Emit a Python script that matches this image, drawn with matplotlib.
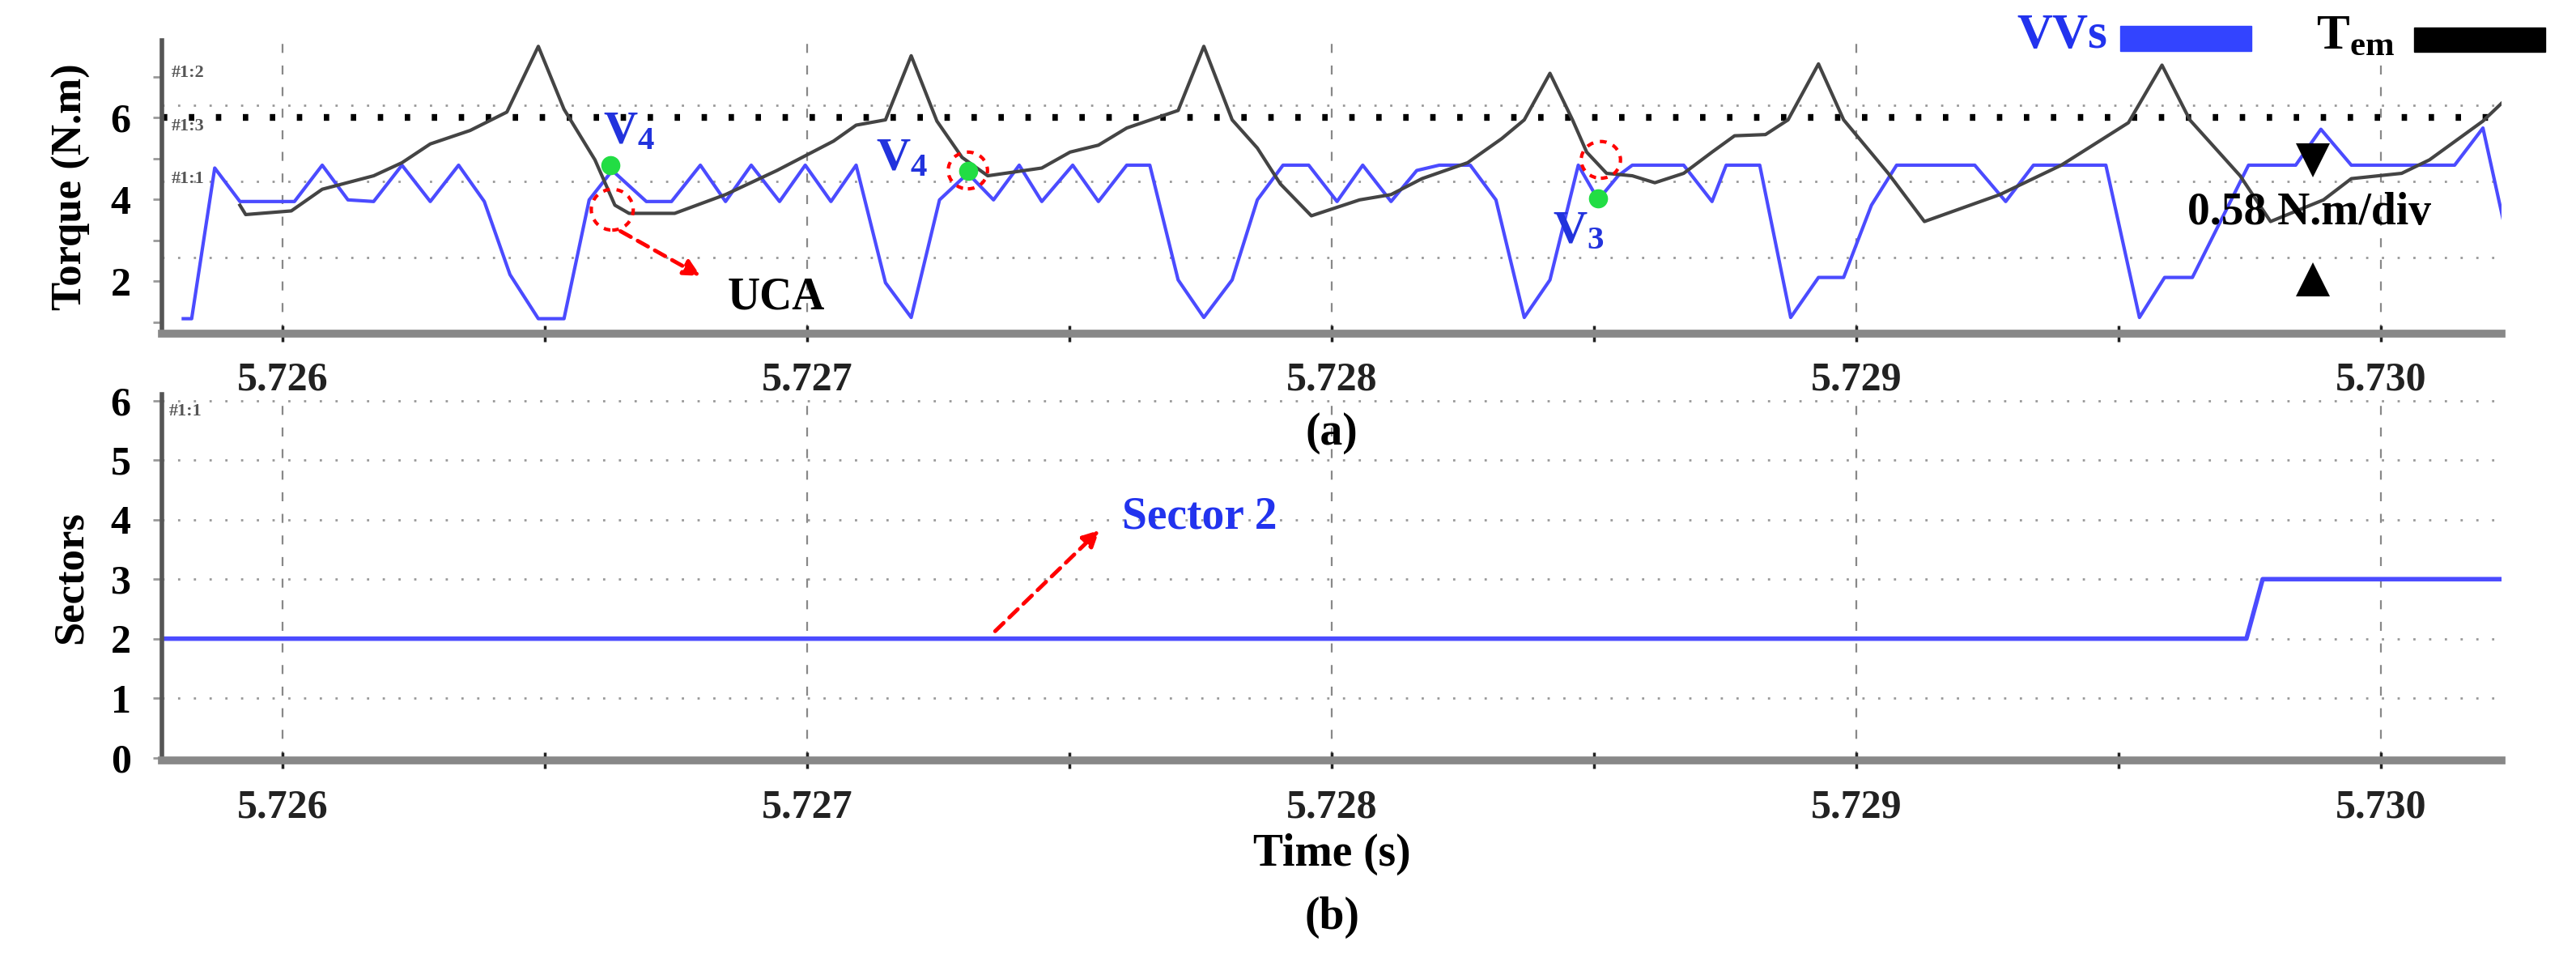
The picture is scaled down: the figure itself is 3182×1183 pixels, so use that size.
import matplotlib
matplotlib.use("Agg")
import matplotlib.pyplot as plt
from matplotlib.patches import Ellipse, Rectangle
import numpy as np

# ---- data (time in microseconds after 5.726 s) ----
vvs_t = [-190, -174, -130, -82, 22, 75, 124, 173, 227, 281, 335, 384, 433, 487, 536, 584, 628,
         693, 741, 796, 844, 893, 947, 996, 1045, 1093, 1149, 1198, 1252, 1306, 1355, 1404, 1447,
         1506, 1555, 1609, 1653, 1707, 1756, 1810, 1858, 1907, 1956, 2010, 2059, 2113, 2162, 2205,
         2264, 2313, 2367, 2416, 2470, 2508, 2546, 2573, 2671, 2725, 2752, 2816, 2875, 2928, 2976,
         3029, 3077, 3226, 3285, 3338, 3476, 3540, 3588, 3641, 3710, 3748, 3838, 3886, 3944, 4141,
         4195, 4242, 4301, 4328]
vvs_v = [1.08, 1.08, 4.77, 3.95, 3.95, 4.84, 3.99, 3.95, 4.84, 3.95, 4.84, 3.95, 2.16, 1.08, 1.08,
         3.99, 4.71, 3.95, 3.95, 4.84, 3.95, 4.84, 3.95, 4.84, 3.95, 4.84, 1.96, 1.11, 3.99, 4.64,
         3.99, 4.84, 3.95, 4.84, 3.95, 4.84, 4.84, 2.03, 1.11, 2.03, 3.99, 4.84, 4.84, 3.95, 4.84,
         3.95, 4.71, 4.84, 4.84, 3.99, 1.11, 2.03, 4.84, 3.99, 4.58, 4.84, 4.84, 3.95, 4.84, 4.84,
         1.11, 2.09, 2.09, 3.86, 4.84, 4.84, 3.95, 4.84, 4.84, 1.11, 2.09, 2.09, 3.86, 4.84, 4.84,
         5.72, 4.84, 4.84, 5.75, 3.01, 2.06, 2.68]

tem_t = [-82, -71, 16, 75, 173, 227, 281, 357, 427, 487, 536, 595, 633, 660, 747, 844, 942, 1050,
         1093, 1149, 1198, 1247, 1295, 1344, 1447, 1501, 1555, 1609, 1707, 1756, 1810, 1858, 1902,
         1961, 2053, 2113, 2172, 2259, 2324, 2367, 2416, 2459, 2486, 2524, 2573, 2616, 2671, 2725,
         2768, 2827, 2870, 2928, 2976, 3061, 3130, 3274, 3391, 3519, 3583, 3636, 3732, 3790, 3891,
         3944, 4040, 4093, 4195, 4301, 4328]
tem_v = [3.86, 3.63, 3.72, 4.25, 4.58, 4.90, 5.36, 5.69, 6.14, 7.75, 6.21, 4.97, 3.86, 3.66, 3.66,
         4.12, 4.71, 5.43, 5.82, 5.95, 7.52, 5.92, 5.03, 4.58, 4.77, 5.16, 5.33, 5.75, 6.18, 7.75,
         5.95, 5.26, 4.38, 3.60, 3.99, 4.12, 4.51, 4.90, 5.49, 5.95, 7.09, 5.95, 5.16, 4.64, 4.58,
         4.41, 4.64, 5.16, 5.56, 5.59, 5.95, 7.32, 5.95, 4.64, 3.46, 4.12, 4.84, 5.88, 7.29, 5.95,
         4.58, 3.46, 3.99, 4.51, 4.64, 4.97, 5.92, 7.22, 6.73]

sector_t = [-230, 3744, 3775, 4330]
sector_v = [2, 2, 3, 3]

tem_ref = 6.0
xticks = [5.726, 5.727, 5.728, 5.729, 5.730]
xlabels = ["5.726", "5.727", "5.728", "5.729", "5.730"]

t0 = 5.726
to_s = lambda us: t0 + np.asarray(us) * 1e-6

BLUE = "#4b4bff"
SERIF = "Liberation Serif"
plt.rcParams['font.family'] = [SERIF, 'DejaVu Serif']
plt.rcParams['font.weight'] = 'bold'
plt.rcParams['mathtext.fontset'] = 'custom'
plt.rcParams['mathtext.rm'] = 'Liberation Serif:bold'
plt.rcParams['mathtext.it'] = 'Liberation Serif:bold'
plt.rcParams['mathtext.bf'] = 'Liberation Serif:bold'

fig = plt.figure(figsize=(31.82, 11.83), dpi=100)
ax1 = fig.add_axes([0.063, 0.652, 0.908, 0.306])
ax2 = fig.add_axes([0.063, 0.206, 0.908, 0.382])
xlim = (5.72577, 5.73023)

for ax in (ax1, ax2):
    for s in ('top', 'right'):
        ax.spines[s].set_visible(False)
    ax.spines['bottom'].set_color('#888888')
    ax.spines['bottom'].set_linewidth(7)
    ax.spines['left'].set_color('#555555')
    ax.spines['left'].set_linewidth(4)
    ax.set_xticks(xticks)
    ax.set_xticks(np.arange(5.7255, 5.7305, 0.0005), minor=True)
    ax.tick_params(axis='x', which='both', direction='inout', length=14, width=2.5, colors='#222222',
                   labelsize=36, pad=18)
    ax.tick_params(axis='y', which='both', direction='out', length=8, width=2, colors='#999999',
                   labelsize=36, labelcolor='black', pad=20)
    for x in xticks:
        ax.axvline(x, color='#888888', lw=1.6, ls=(0, (5, 7)), zorder=0)
    ax.set_xlim(*xlim)

# ---- (a) torque ----
ax1.set_yticks([2, 4, 6])
ax1.set_yticks([1, 3, 5, 7], minor=True)
ax1.set_ylim(0.72, 7.9)
ax1.set_xticklabels(xlabels, fontweight='bold')
for y in (2.58, 4.44, 6.31):
    ax1.axhline(y, color='#999999', lw=2, ls=(0, (1, 6)), zorder=0)
ax1.axhline(tem_ref, color='black', lw=6, ls=(0, (0.8, 3.2)), zorder=1)
ax1.plot(to_s(vvs_t), vvs_v, color=BLUE, lw=3, zorder=2)
ax1.plot(to_s(tem_t), tem_v, color='#444444', lw=3, zorder=3)
ax1.set_ylabel("Torque (N.m)", fontsize=38, fontweight='bold', labelpad=18)

# markers
for (tt, vv) in [(625, 4.84), (1306, 4.71), (2508, 4.02)]:
    ax1.plot(to_s(tt), vv, 'o', color='#22dd44', ms=16, zorder=5)
for (tt, vv, w, h) in [(628, 3.75, 80, 1.0), (1306, 4.71, 75, 0.9), (2513, 4.97, 75, 0.9)]:
    ax1.add_patch(Ellipse((to_s(tt), vv), w * 1e-6, h, fill=False, ec='red', lw=3,
                          ls=(0, (2, 2)), zorder=6))
ax1.text(to_s(660), 5.65, r"V$_4$", color='#2233dd', fontsize=42, ha='center', va='center', fontweight='bold')
ax1.text(to_s(1180), 5.0, r"V$_4$", color='#2233dd', fontsize=42, ha='center', va='center', fontweight='bold')
ax1.text(to_s(2470), 3.2, r"V$_3$", color='#2233dd', fontsize=42, ha='center', va='center', fontweight='bold')
ax1.annotate("", xy=(to_s(800), 2.1), xytext=(to_s(640), 3.25),
             arrowprops=dict(arrowstyle='-|>,head_width=0.6,head_length=1.2', color='red', lw=3.5,
                             ls=(0, (3, 2))))
ax1.text(to_s(940), 1.6, "UCA", fontsize=40, ha='center', va='center', fontweight='bold')
ax1.text(to_s(3864), 3.66, "0.58 N.m/div", fontsize=40, ha='center', va='center', fontweight='bold')
ax1.plot(to_s(3870), 4.95, marker='v', color='black', ms=30, mew=0, zorder=7)
ax1.plot(to_s(3870), 2.05, marker='^', color='black', ms=30, mew=0, zorder=7)
# scope cursor markers
for txt, yy in [("#1:2", 7.0), ("#1:3", 5.7), ("#1:1", 4.4)]:
    ax1.text(0.004, yy, txt, transform=ax1.get_yaxis_transform(), fontsize=16, color='#555555')

# legend-like keys
fig.text(0.783, 0.963, "VVs", color='#2233ee', fontsize=44, fontweight='bold', ha='left', va='center')
fig.add_artist(Rectangle((0.823, 0.947), 0.051, 0.026, transform=fig.transFigure, color='#3344ff'))
fig.text(0.899, 0.962, r"T$_{\rm em}$", color='black', fontsize=44, fontweight='bold', ha='left', va='center')
fig.add_artist(Rectangle((0.937, 0.946), 0.051, 0.025, transform=fig.transFigure, color='black'))

# ---- (b) sectors ----
ax2.set_yticks(range(7))
ax2.set_ylim(-0.05, 6.1)
ax2.set_xticklabels(xlabels, fontweight='bold')
for y in range(1, 7):
    ax2.axhline(y, color='#999999', lw=2, ls=(0, (1, 6)), zorder=0)
ax2.plot(to_s(sector_t), sector_v, color=BLUE, lw=4, zorder=2)
ax2.set_xlim(*xlim)
ax2.set_ylabel("Sectors", fontsize=38, fontweight='bold', labelpad=18)
ax2.set_xlabel("Time (s)", fontsize=40, fontweight='bold', labelpad=6)
ax2.text(to_s(1600), 4.05, "Sector 2", color='#2233ee', fontsize=40, ha='left', va='center', fontweight='bold')
ax2.annotate("", xy=(to_s(1560), 3.85), xytext=(to_s(1355), 2.1),
             arrowprops=dict(arrowstyle='-|>,head_width=0.6,head_length=1.2', color='red', lw=3.5,
                             ls=(0, (3, 2))))
ax2.text(0.003, 5.75, "#1:1", transform=ax2.get_yaxis_transform(), fontsize=16, color='#555555')

fig.text(0.517, 0.548, "(a)", fontsize=40, fontweight='bold', ha='center', va='center')
fig.text(0.517, 0.042, "(b)", fontsize=40, fontweight='bold', ha='center', va='center')

fig.savefig("out.png", dpi=100)
